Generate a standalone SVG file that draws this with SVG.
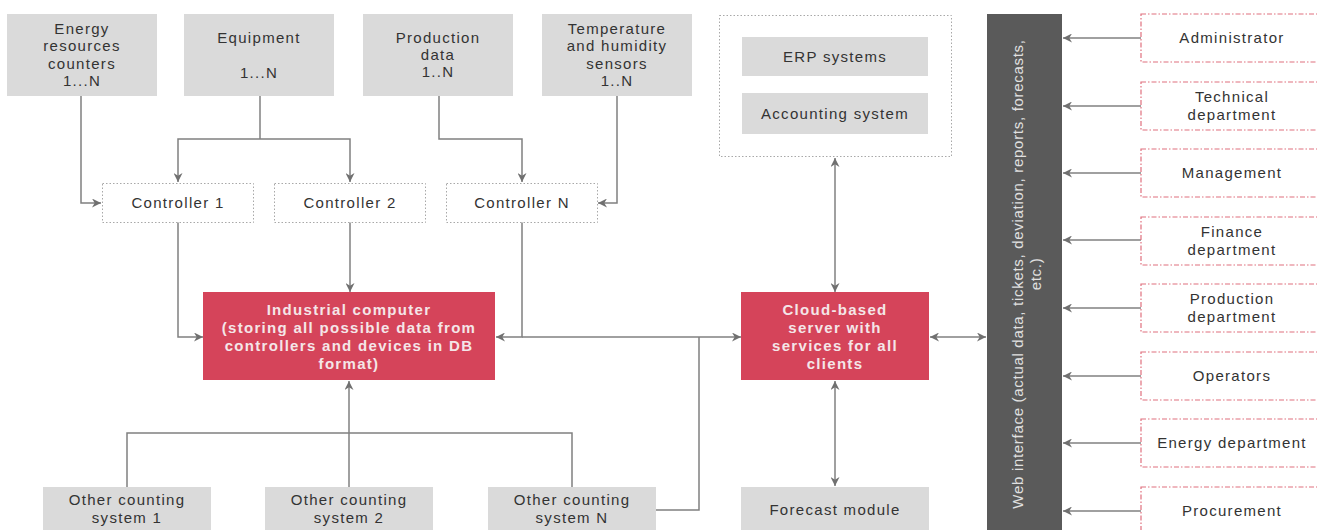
<svg xmlns="http://www.w3.org/2000/svg" width="1317" height="530" viewBox="0 0 1317 530">
<defs>
<marker id="ah" viewBox="0 0 10 10" refX="10" refY="5" markerWidth="11" markerHeight="9" markerUnits="userSpaceOnUse" orient="auto-start-reverse">
<path d="M0,0 L10,5 L0,10 L3,5 z" fill="#707070"/>
</marker>
<style>
.src{fill:#dadada;}
.t{font-family:"Liberation Sans",Arial,sans-serif;font-size:15px;letter-spacing:1.3px;fill:#333;text-anchor:middle;}
.tb{font-family:"Liberation Sans",Arial,sans-serif;font-size:15px;font-weight:bold;letter-spacing:1.3px;fill:#f4e6e8;text-anchor:middle;}
.tw{font-family:"Liberation Sans",Arial,sans-serif;font-size:15px;letter-spacing:0.7px;fill:#e0e0e0;text-anchor:middle;}
.dot{fill:#fff;stroke:#a8a8a8;stroke-width:1;stroke-dasharray:1.5 2;}
.red{fill:#d5445a;}
.usr{fill:#fff;stroke:#e0707e;stroke-width:1.2;stroke-dasharray:5 2 1.5 2;}
.c{fill:none;stroke:#808080;stroke-width:1.5;}
.a{marker-end:url(#ah);}
.aa{marker-start:url(#ah);marker-end:url(#ah);}
</style>
</defs>

<g id="connectors">
<path class="c a" d="M81,96 V203 H101"/>
<path class="c" d="M260,96 V139"/>
<path class="c a" d="M260,139 H178 V182"/>
<path class="c a" d="M260,139 H350 V182"/>
<path class="c a" d="M439,96 V139 H522 V182"/>
<path class="c a" d="M617,96 V203 H598"/>
<path class="c a" d="M178,222 V337 H203"/>
<path class="c a" d="M350,222 V292"/>
<path class="c a" d="M522,222 V337 H496"/>
<path class="c a" d="M522,337 H741"/>
<path class="c" d="M656,510 H699 V337"/>
<path class="c" d="M127,487 V433 H572 V487"/>
<path class="c" d="M349,487 V433"/>
<path class="c a" d="M349,433 V381"/>
<path class="c aa" d="M835,158 V292"/>
<path class="c aa" d="M835,381 V486"/>
<path class="c aa" d="M930,337 H986"/>
<path class="c a" d="M1141,38 H1063"/>
<path class="c a" d="M1141,106 H1063"/>
<path class="c a" d="M1141,173 H1063"/>
<path class="c a" d="M1141,240 H1063"/>
<path class="c a" d="M1141,308 H1063"/>
<path class="c a" d="M1141,376 H1063"/>
<path class="c a" d="M1141,443 H1063"/>
<path class="c a" d="M1141,511 H1063"/>
</g>

<g id="energy-counters">
<rect class="src" x="7" y="14" width="150" height="82"/>
<text class="t" x="82" y="34">Energy</text>
<text class="t" x="82" y="51">resources</text>
<text class="t" x="82" y="69">counters</text>
<text class="t" x="82" y="86">1...N</text>
</g>
<g id="equipment">
<rect class="src" x="184" y="14" width="150" height="82"/>
<text class="t" x="259" y="43">Equipment</text>
<text class="t" x="259" y="78">1...N</text>
</g>
<g id="production-data">
<rect class="src" x="363" y="14" width="150" height="82"/>
<text class="t" x="438" y="43">Production</text>
<text class="t" x="438" y="60">data</text>
<text class="t" x="438" y="77">1..N</text>
</g>
<g id="temp-sensors">
<rect class="src" x="542" y="14" width="150" height="82"/>
<text class="t" x="617" y="34">Temperature</text>
<text class="t" x="617" y="51">and humidity</text>
<text class="t" x="617" y="69">sensors</text>
<text class="t" x="617" y="86">1..N</text>
</g>

<g id="controller-1">
<rect class="dot" x="102.5" y="183.5" width="151" height="39"/>
<text class="t" x="178" y="208">Controller 1</text>
</g>
<g id="controller-2">
<rect class="dot" x="274.5" y="183.5" width="151" height="39"/>
<text class="t" x="350" y="208">Controller 2</text>
</g>
<g id="controller-n">
<rect class="dot" x="446.5" y="183.5" width="151" height="39"/>
<text class="t" x="522" y="208">Controller N</text>
</g>

<g id="industrial-computer">
<rect class="red" x="203" y="292" width="292" height="88"/>
<text class="tb" x="349" y="315">Industrial computer</text>
<text class="tb" x="349" y="333">(storing all possible data from</text>
<text class="tb" x="349" y="351">controllers and devices in DB</text>
<text class="tb" x="349" y="369">format)</text>
</g>

<g id="other-1">
<rect class="src" x="43" y="487" width="168" height="48"/>
<text class="t" x="127" y="505">Other counting</text>
<text class="t" x="127" y="523">system 1</text>
</g>
<g id="other-2">
<rect class="src" x="265" y="487" width="168" height="48"/>
<text class="t" x="349" y="505">Other counting</text>
<text class="t" x="349" y="523">system 2</text>
</g>
<g id="other-n">
<rect class="src" x="488" y="487" width="168" height="48"/>
<text class="t" x="572" y="505">Other counting</text>
<text class="t" x="572" y="523">system N</text>
</g>

<g id="external-systems">
<rect class="dot" x="719.5" y="15.5" width="232" height="141"/>
<rect class="src" x="742" y="37" width="186" height="39"/>
<text class="t" x="835" y="62">ERP systems</text>
<rect class="src" x="742" y="93" width="186" height="41"/>
<text class="t" x="835" y="119">Accounting system</text>
</g>

<g id="cloud-server">
<rect class="red" x="741" y="292" width="188" height="88"/>
<text class="tb" x="835" y="315">Cloud-based</text>
<text class="tb" x="835" y="333">server with</text>
<text class="tb" x="835" y="351">services for all</text>
<text class="tb" x="835" y="369">clients</text>
</g>

<g id="forecast-module">
<rect class="src" x="741" y="487" width="188" height="48"/>
<text class="t" x="835" y="515">Forecast module</text>
</g>

<g id="web-interface">
<rect fill="#5a5a5a" x="987" y="14" width="75" height="520"/>
<text class="tw" transform="translate(1023,274) rotate(-90)">Web interface (actual data, tickets, deviation, reports, forecasts,</text>
<text class="tw" transform="translate(1041,274) rotate(-90)">etc.)</text>
</g>

<g id="administrator">
<rect class="usr" x="1141" y="14" width="184" height="48"/>
<text class="t" x="1232" y="43">Administrator</text>
</g>
<g id="technical-department">
<rect class="usr" x="1141" y="82" width="184" height="48"/>
<text class="t" x="1232" y="102">Technical</text>
<text class="t" x="1232" y="120">department</text>
</g>
<g id="management">
<rect class="usr" x="1141" y="149" width="184" height="48"/>
<text class="t" x="1232" y="178">Management</text>
</g>
<g id="finance-department">
<rect class="usr" x="1141" y="217" width="184" height="48"/>
<text class="t" x="1232" y="237">Finance</text>
<text class="t" x="1232" y="255">department</text>
</g>
<g id="production-department">
<rect class="usr" x="1141" y="284" width="184" height="48"/>
<text class="t" x="1232" y="304">Production</text>
<text class="t" x="1232" y="322">department</text>
</g>
<g id="operators">
<rect class="usr" x="1141" y="352" width="184" height="48"/>
<text class="t" x="1232" y="381">Operators</text>
</g>
<g id="energy-department">
<rect class="usr" x="1141" y="419" width="184" height="48"/>
<text class="t" x="1232" y="448">Energy department</text>
</g>
<g id="procurement">
<rect class="usr" x="1141" y="487" width="184" height="48"/>
<text class="t" x="1232" y="516">Procurement</text>
</g>
</svg>
